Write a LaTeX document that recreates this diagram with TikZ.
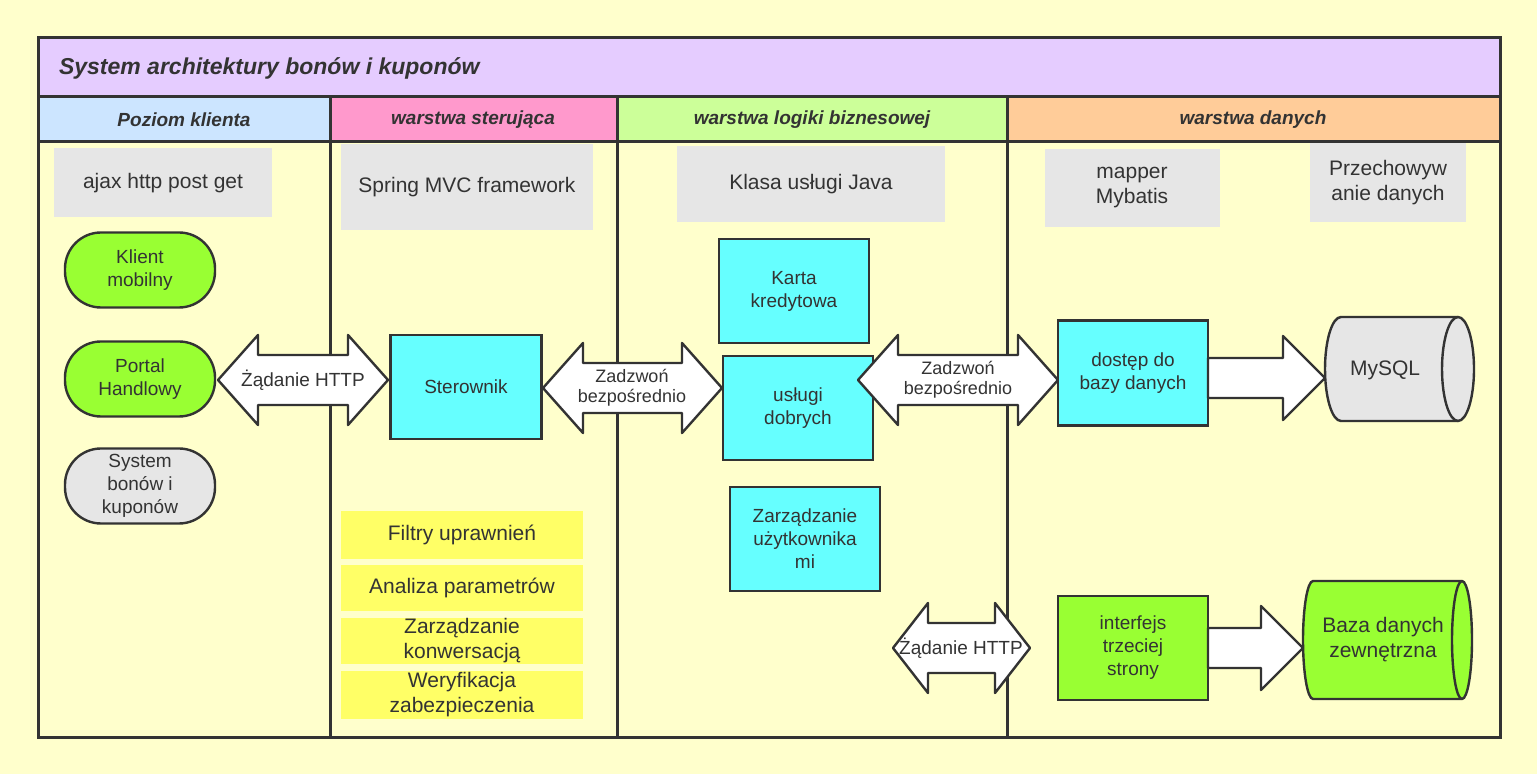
\documentclass[tikz,border=0pt]{standalone}
\usepackage{fontspec}
\setmainfont{Liberation Sans}
\definecolor{bgyellow}{HTML}{FFFFCC}
\definecolor{titlevio}{HTML}{E5CCFF}
\definecolor{hdblue}{HTML}{CCE5FF}
\definecolor{hdpink}{HTML}{FF99CC}
\definecolor{hdgreen}{HTML}{CCFF99}
\definecolor{hdorange}{HTML}{FFCC99}
\definecolor{boxgrey}{HTML}{E6E6E6}
\definecolor{boxcyan}{HTML}{66FFFF}
\definecolor{boxgreen}{HTML}{99FF33}
\definecolor{boxyellow}{HTML}{FFFF66}
\definecolor{linedark}{HTML}{333333}
\tikzset{
  txt/.style={font=\fontsize{9.5}{11.5}\selectfont, text=linedark, align=center},
  big/.style={font=\fontsize{10.5}{12.5}\selectfont},
  grey/.style={txt, big, fill=boxgrey, inner sep=0pt},
  cyanbox/.style={txt, fill=boxcyan, draw=linedark, line width=1.2pt, inner sep=0pt},
  yelbox/.style={txt, big, fill=boxyellow, inner sep=0pt},
  pill/.style={txt, draw=linedark, line width=1.2pt, rounded corners=18pt, inner sep=0pt},
  hdr/.style={font=\fontsize{9.5}{11}\selectfont\bfseries\itshape, text=linedark},
  arr/.style={draw=linedark, fill=white, line width=1.2pt, line join=round},
  cyl/.style={draw=linedark, line width=1.2pt}
}
% double arrow: x1, x2, y, half body, half head, head length
\newcommand{\dblarrow}[6]{%
  \draw[arr] (#1,#3) -- ({#1+#6},{#3-#5}) -- ({#1+#6},{#3-#4}) -- ({#2-#6},{#3-#4})
    -- ({#2-#6},{#3-#5}) -- (#2,#3) -- ({#2-#6},{#3+#5}) -- ({#2-#6},{#3+#4})
    -- ({#1+#6},{#3+#4}) -- ({#1+#6},{#3+#5}) -- cycle;}
% single arrow: x1, x2, y, half body, half head, head length
\newcommand{\onearrow}[6]{%
  \draw[arr] (#1,{#3-#4}) -- ({#2-#6},{#3-#4}) -- ({#2-#6},{#3-#5}) -- (#2,#3)
    -- ({#2-#6},{#3+#5}) -- ({#2-#6},{#3+#4}) -- (#1,{#3+#4}) -- cycle;}
% lying cylinder: x1, x2, y1, y2, end radius, fill
\newcommand{\hcyl}[6]{%
  \filldraw[cyl, fill=#6] ({#1+#5},#3) -- ({#2-#5},#3)
    arc[start angle=-90, end angle=90, x radius=#5, y radius={(#4-#3)/2}]
    -- ({#1+#5},#4)
    arc[start angle=90, end angle=270, x radius=#5, y radius={(#4-#3)/2}] -- cycle;
  \draw[cyl] ({#2-#5},#3) arc[start angle=-90, end angle=-270, x radius=#5, y radius={(#4-#3)/2}];}
\begin{document}
\begin{tikzpicture}[x=0.5pt,y=-0.5pt]
  \fill[bgyellow] (0,0) rectangle (1537,774);
  % lanes
  \fill[titlevio] (38,38) rectangle (1500,97);
  \fill[hdblue] (38,97) rectangle (330,142);
  \fill[hdpink] (330,97) rectangle (617,142);
  \fill[hdgreen] (617,97) rectangle (1007,142);
  \fill[hdorange] (1007,97) rectangle (1500,142);
  \draw[linedark, line width=1.5pt] (38,38) rectangle (1500,737);
  \draw[linedark, line width=1.5pt] (38,97) -- (1500,97) (38,142) -- (1500,142);
  \foreach \x in {330,617,1007}{
    \draw[linedark, line width=1.5pt] (\x,97) -- (\x,737);
  }
  \node[anchor=west, font=\fontsize{11.5}{13}\selectfont\bfseries\itshape, text=linedark] (title) at (52,68) {System architektury bonów i kuponów};
  \node[hdr] (h1) at (184,120) {Poziom klienta};
  \node[hdr] (h2) at (473,120) {warstwa sterująca};
  \node[hdr] (h3) at (812,120) {warstwa logiki biznesowej};
  \node[hdr] (h4) at (1253,120) {warstwa danych};
  % grey captions
  \node[grey, minimum width=109pt, minimum height=34.5pt] (ajax) at (163,183) {ajax http post get};
  \node[grey, minimum width=126pt, minimum height=43pt] (spring) at (467,187) {Spring MVC framework};
  \node[grey, minimum width=134pt, minimum height=38pt] (klasa) at (811,184) {Klasa usługi Java};
  \node[grey, minimum width=87.5pt, minimum height=39pt] (mapper) at (1132,188) {mapper\\Mybatis};
  \node[grey, minimum width=78pt, minimum height=39.5pt] (przech) at (1388,183) {Przechowyw\\anie danych};
  % client nodes
  \node[pill, fill=boxgreen, minimum width=75pt, minimum height=37.5pt] (mobile) at (140,270) {Klient\\mobilny};
  \node[pill, fill=boxgreen, minimum width=75pt, minimum height=37.5pt] (portal) at (140,379) {Portal\\Handlowy};
  \node[pill, fill=boxgrey, minimum width=75pt, minimum height=37.5pt] (bony) at (140,486) {System\\bonów i\\kuponów};
  % control layer
  \node[cyanbox, minimum width=75.5pt, minimum height=52pt] (ster) at (466,387) {Sterownik};
  \node[yelbox, minimum width=121pt, minimum height=24pt] (filtry) at (462,535) {Filtry uprawnień};
  \node[yelbox, minimum width=121pt, minimum height=23pt] (analiza) at (462,588) {Analiza parametrów};
  \node[yelbox, minimum width=121pt, minimum height=23pt] (konw) at (462,641) {Zarządzanie\\konwersacją};
  \node[yelbox, minimum width=121pt, minimum height=23.5pt] (weryf) at (462,695) {Weryfikacja\\zabezpieczenia};
  % business layer
  \node[cyanbox, minimum width=75pt, minimum height=52pt] (karta) at (794,291) {Karta\\kredytowa};
  \node[cyanbox, minimum width=75pt, minimum height=52pt] (uslugi) at (798,408) {usługi\\dobrych};
  \node[cyanbox, minimum width=75pt, minimum height=52pt] (uzytk) at (805,539) {Zarządzanie\\użytkownika\\mi};
  % data layer
  \node[cyanbox, minimum width=75pt, minimum height=52.5pt] (dostep) at (1133,373) {dostęp do\\bazy danych};
  \node[cyanbox, fill=boxgreen, minimum width=75pt, minimum height=52pt] (interf) at (1133,648) {interfejs\\trzeciej\\strony};
  \hcyl{1325}{1474}{317}{421}{16}{boxgrey}
  \hcyl{1303}{1472}{581}{699}{10}{boxgreen}
  \node[txt, big] (mysql) at (1385,370) {MySQL};
  \node[txt, big] (zewn) at (1383,640) {Baza danych\\zewnętrzna};
  % arrows
  \dblarrow{218}{388}{380}{25}{45}{40}
  \dblarrow{543}{722}{388}{25}{45}{40}
  \dblarrow{858}{1058}{380}{25}{45}{40}
  \dblarrow{893}{1030}{648}{25}{45}{35}
  \onearrow{1208}{1325}{378}{20}{42}{42}
  \onearrow{1208}{1303}{648}{20}{42}{42}
  \node[txt] (http1) at (303,380) {Żądanie HTTP};
  \node[txt, font=\fontsize{9}{10}\selectfont] (call1) at (632,388) {Zadzwoń\\bezpośrednio};
  \node[txt, font=\fontsize{9}{10}\selectfont] (call2) at (958,380) {Zadzwoń\\bezpośrednio};
  \node[txt] (http2) at (961,648) {Żądanie HTTP};
\end{tikzpicture}
\end{document}
